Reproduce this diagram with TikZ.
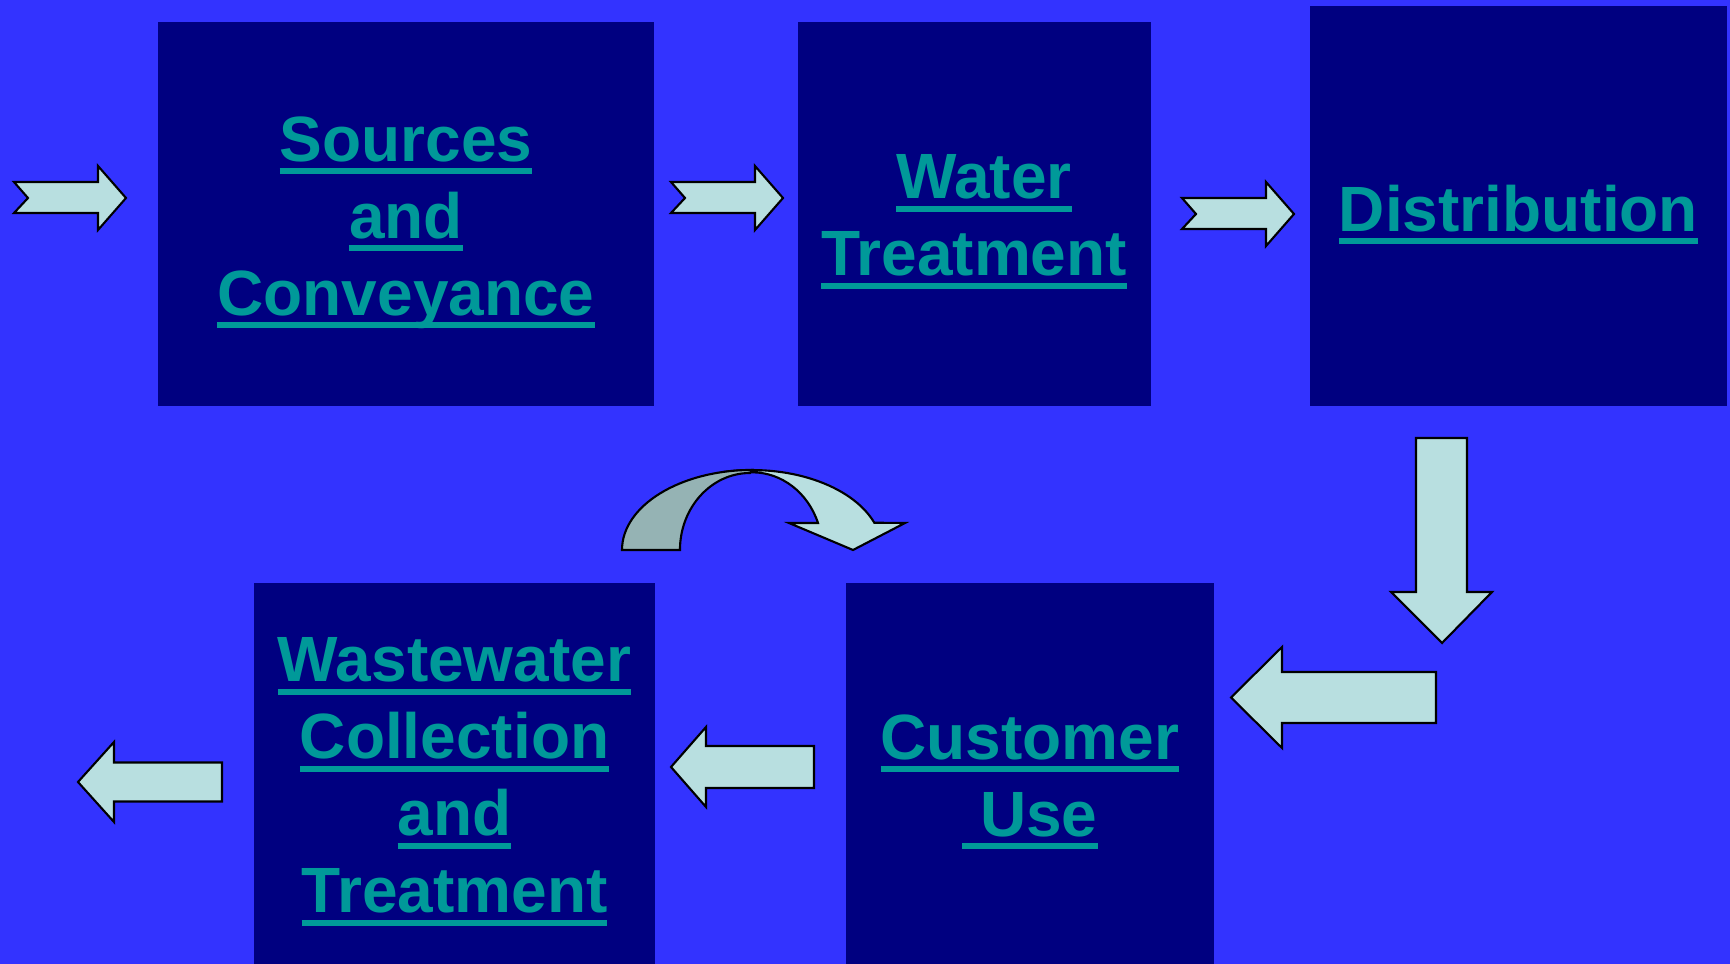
\documentclass[tikz,border=0pt]{standalone}
\usepackage{fontspec}
\setmainfont{Liberation Sans}

\definecolor{slidebg}{HTML}{3333FF}
\definecolor{boxnavy}{HTML}{000080}
\definecolor{linkteal}{HTML}{009999}
\definecolor{arrowfill}{HTML}{B8DFE0}
\definecolor{arrowshade}{HTML}{95B3B4}

\newsavebox{\ulinkbox}
\newcommand{\ulink}[1]{\sbox\ulinkbox{#1}\rlap{\rule[-0.13cm]{\wd\ulinkbox}{0.06cm}}\usebox\ulinkbox}

\tikzset{
  stagebox/.style={fill=boxnavy, inner sep=0pt},
  stagetext/.style={text=linkteal, font=\bfseries\fontsize{18.2}{21.9}\selectfont,
    align=center, anchor=north, inner sep=0pt},
  blockarrow/.style={draw=black, fill=arrowfill, line width=0.6pt},
}

\begin{document}
\begin{tikzpicture}
[x=0.01cm,y=-0.01cm]
\fill[slidebg] (0,0) rectangle (1730,964);
\useasboundingbox (0,0) rectangle (1730,964);

% stages
\node[stagebox, minimum width=4.96cm, minimum height=3.84cm] (src) at (406,214) {};
\node[stagebox, minimum width=3.53cm, minimum height=3.84cm] (treat) at (974.5,214) {};
\node[stagebox, minimum width=4.17cm, minimum height=4.00cm] (dist) at (1518.5,206) {};
\node[stagebox, minimum width=4.01cm, minimum height=3.81cm] (waste) at (454.5,773.5) {};
\node[stagebox, minimum width=3.68cm, minimum height=3.81cm] (cust) at (1030,773.5) {};

\node[stagetext] (srcL) at (406,116) {\ulink{Sources}\\\ulink{and}\\\ulink{Conveyance}};
\node[stagetext] (treatL) at (974,154) {\hspace*{0.2cm}\ulink{Water}\\\ulink{Treatment}};
\node[stagetext] (distL) at (1518.5,184) {\ulink{Distribution}};
\node[stagetext] (wasteL) at (454.5,637) {\ulink{Wastewater}\\\ulink{Collection}\\\ulink{and}\\\ulink{Treatment}};
\node[stagetext] (custL) at (1030,714) {\ulink{Customer}\\\ulink{\ Use}};

% arrows along the top
\foreach \dx/\dy in {0/0,657/0,1168/16}{
\draw[blockarrow, shift={(\dx,\dy)}] (14,182) -- (98,182) -- (98,166) -- (126,198)
  -- (98,230) -- (98,213) -- (14,213) -- (28,198) -- cycle;
}

% down from distribution
\draw[blockarrow] (1416,438) -- (1467,438) -- (1467,592) -- (1492,592) -- (1442,643)
  -- (1391,592) -- (1416,592) -- cycle;

% arrows along the bottom
\foreach \tx/\ty/\hx/\hh/\sh/\ex in {1231/697.5/1282/50.5/25.5/1436, 671/767/706/40/21/814, 78/782/114/40/19.5/222}{
\draw[blockarrow] (\tx,\ty) -- (\hx,\ty-\hh) -- (\hx,\ty-\sh) -- (\ex,\ty-\sh)
  -- (\ex,\ty+\sh) -- (\hx,\ty+\sh) -- (\hx,\ty+\hh) -- cycle;
}

% curved arrow
\draw[blockarrow] (722.8,472.1) arc[start angle=103, end angle=20, x radius=1.3cm, y radius=0.8cm]
  -- (905,523) -- (853,550) -- (789,523) -- (818,523)
  arc[start angle=20, end angle=90, x radius=0.7cm, y radius=0.77cm] -- cycle;
\draw[blockarrow, fill=arrowshade] (622,550) arc[start angle=180, end angle=90, x radius=1.3cm, y radius=0.8cm]
  -- (750,473) arc[start angle=90, end angle=180, x radius=0.7cm, y radius=0.77cm] -- cycle;
\end{tikzpicture}
\end{document}
